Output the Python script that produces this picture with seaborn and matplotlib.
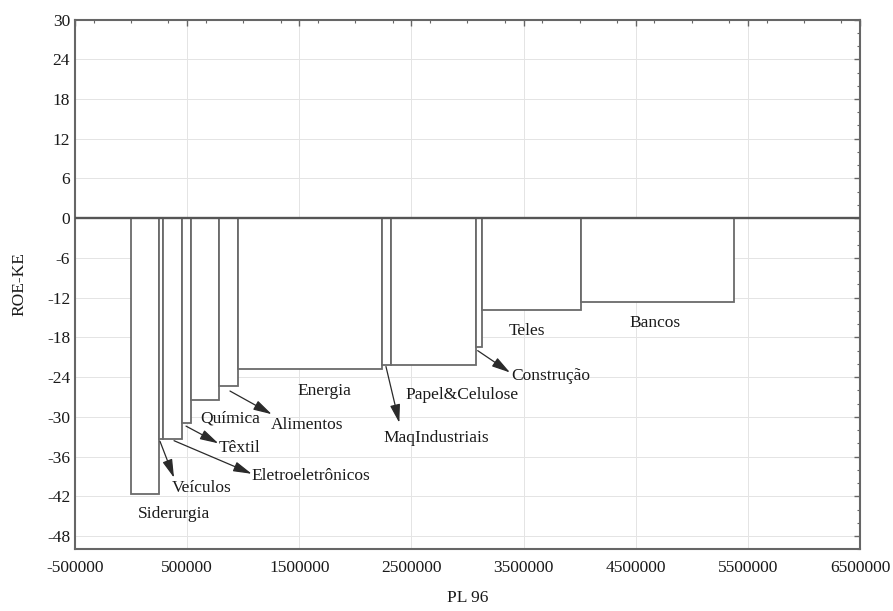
import numpy as np
import matplotlib
matplotlib.use("Agg")
import matplotlib.pyplot as plt
from matplotlib.ticker import MultipleLocator, FuncFormatter
import seaborn as sns

# sectors, PL 96 (bar widths) and ROE-KE (bar heights)
sectors = ["Siderurgia", "Veículos", "Eletroeletrônicos", "Têxtil", "Química",
           "Alimentos", "Energia", "MaqIndustriais", "Papel&Celulose",
           "Construção", "Teles", "Bancos"]
pl_96 = [247000, 41000, 164000, 83000, 250000, 166000,
         1285000, 80000, 761000, 56000, 881000, 1367000]
roe_ke = [-41.6, -33.4, -33.3, -30.9, -27.4, -25.3,
          -22.8, -22.2, -22.2, -19.5, -13.9, -12.6]

# label placement (text left edge, text center y)
label_pos = {
    "Siderurgia": (62000, -44.6),
    "Veículos": (362000, -40.7),
    "Eletroeletrônicos": (1076000, -39.0),
    "Têxtil": (778000, -34.7),
    "Química": (615000, -30.3),
    "Alimentos": (1245000, -31.2),
    "Energia": (1482000, -26.1),
    "MaqIndustriais": (2249000, -33.2),
    "Papel&Celulose": (2443000, -26.7),
    "Construção": (3394000, -23.9),
    "Teles": (3364000, -17.0),
    "Bancos": (4443000, -15.8),
}
# arrows from bar to label: (start, tip)
arrows = {
    "Veículos": ((258000, -33.7), (383000, -39.2)),
    "Eletroeletrônicos": ((383000, -33.6), (1076000, -38.6)),
    "Têxtil": ((490000, -31.4), (778000, -34.0)),
    "Alimentos": ((882000, -26.1), (1254000, -29.6)),
    "MaqIndustriais": ((2273000, -22.4), (2392000, -30.9)),
    "Construção": ((3091000, -20.0), (3379000, -23.3)),
}

sns.set_style("whitegrid", {"grid.color": "#e4e4e4", "axes.edgecolor": "#666666"})
plt.rcParams["font.family"] = ["Liberation Serif", "DejaVu Serif"]
plt.rcParams["axes.unicode_minus"] = False

fig = plt.figure(figsize=(8.93, 6.11), dpi=100)
ax = fig.add_axes([0.084, 0.101, 0.879, 0.867])

left = np.concatenate([[0], np.cumsum(pl_96)[:-1]])
ax.bar(left, roe_ke, width=pl_96, align="edge", color="white",
       edgecolor="#6a6a6a", linewidth=1.3, zorder=2)
ax.axhline(0, color="#555555", lw=1.7, zorder=3)

for name in sectors:
    x, y = label_pos[name]
    ax.text(x, y, name, ha="left", va="center", fontsize=12.5, color="#1a1a1a", zorder=4)

for name, (start, tip) in arrows.items():
    ax.annotate("", xy=tip, xytext=start,
                arrowprops=dict(arrowstyle="-|>,head_length=0.8,head_width=0.22",
                                color="#2a2a2a", lw=0.9, shrinkA=0, shrinkB=0,
                                mutation_scale=14),
                zorder=4)

ax.set_xlim(-500000, 6500000)
ax.set_ylim(-50, 30)
ax.set_xticks(np.arange(-500000, 6500001, 1000000))
ax.xaxis.set_minor_locator(MultipleLocator(1000000 / 3))
ax.xaxis.set_major_formatter(FuncFormatter(lambda v, p: f"{v:.0f}"))
ax.yaxis.set_major_locator(MultipleLocator(6))
ax.yaxis.set_minor_locator(MultipleLocator(2))
ax.grid(True, which="major", color="#e4e4e4", lw=0.7)
ax.grid(False, which="minor")
ax.tick_params(which="both", direction="in", top=True, right=True,
               color="#666666", labelsize=12.5, labelcolor="#1a1a1a")
ax.tick_params(which="major", length=4, width=1)
ax.tick_params(which="minor", length=2.5, width=0.8)
ax.tick_params(axis="x", pad=8)
for sp in ax.spines.values():
    sp.set_linewidth(1.5)
    sp.set_color("#666666")

ax.set_xlabel("PL 96", fontsize=12.5, color="#1a1a1a", labelpad=10)
ax.set_ylabel("ROE-KE", fontsize=12.5, color="#1a1a1a", labelpad=14)

fig.savefig("out.png", dpi=100)
